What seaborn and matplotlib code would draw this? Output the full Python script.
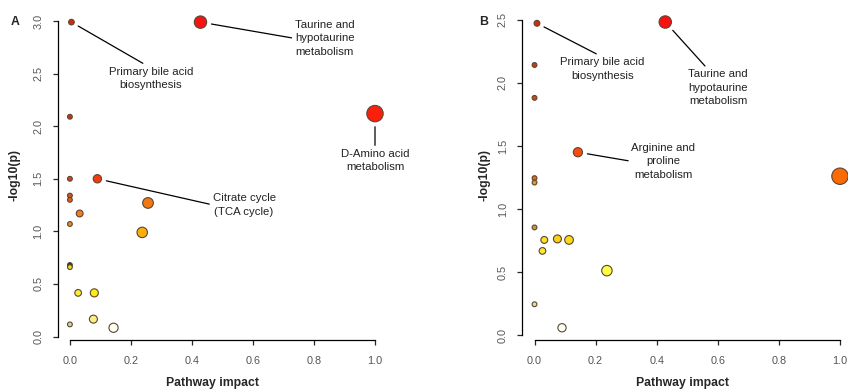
import numpy as np
import pandas as pd
import matplotlib
matplotlib.use("Agg")
import matplotlib.pyplot as plt
import seaborn as sns

sns.set_style("ticks")
plt.rcParams["font.family"] = ["Liberation Sans", "DejaVu Sans"]

# panel A : pathway impact vs -log10(p)
impact_a = [0.005, 0.428, 1.0, 0.0, 0.0, 0.09, 0.0, 0.0, 0.032, 0.256,
            0.0, 0.237, 0.0, 0.0, 0.027, 0.08, 0.0, 0.077, 0.143]
logp_a = [2.99, 2.99, 2.12, 2.09, 1.50, 1.50, 1.34, 1.30, 1.17, 1.27,
          1.07, 0.99, 0.68, 0.66, 0.415, 0.415, 0.115, 0.165, 0.083]
colors_a = ["#d42a0e", "#f41414", "#fa200c", "#c93512", "#d2461a", "#fa3a0c",
            "#d2561c", "#d8641c", "#fa7a12", "#f2780f", "#d8952a", "#fcae0a",
            "#2a2a12", "#e8e024", "#fbee36", "#fbec14", "#d8d89c", "#f8ee82",
            "#fdfdf0"]
labels_a = {
    0: ("Primary bile acid\nbiosynthesis", (0.266, 2.455), (0.47, 1)),
    1: ("Taurine and\nhypotaurine\nmetabolism", (0.835, 2.835), (0, 0.5)),
    2: ("D-Amino acid\nmetabolism", (1.0, 1.675), (0.5, 1)),
    5: ("Citrate cycle\n(TCA cycle)", (0.571, 1.252), (0, 0.5)),
}

# panel B
impact_b = [0.008, 0.428, 0.0, 0.0, 0.142, 1.0, 0.0, 0.0, 0.0, 0.032,
            0.075, 0.113, 0.026, 0.237, 0.0, 0.09]
logp_b = [2.47, 2.48, 2.14, 1.88, 1.45, 1.26, 1.245, 1.21, 0.855, 0.756,
          0.764, 0.756, 0.669, 0.513, 0.247, 0.061]
colors_b = ["#d42a10", "#fa1010", "#c93a16", "#c94a1a", "#fa4a0c", "#fc6a04",
            "#d86a22", "#d89e22", "#c99a34", "#fbe024", "#fbd012", "#fbdc14",
            "#fbe832", "#fcfc44", "#e0e094", "#fdfdf0"]
labels_b = {
    0: ("Primary bile acid\nbiosynthesis", (0.223, 2.109), (0.5, 1)),
    1: ("Taurine and\nhypotaurine\nmetabolism", (0.601, 1.959), (0.33, 1)),
    4: ("Arginine and\nproline\nmetabolism", (0.422, 1.378), (0, 0.5)),
}

W, H = 848, 390
fig = plt.figure(figsize=(W / 100, H / 100), dpi=100)


def radius_px(imp):
    return 2.4 + 5.8 * np.sqrt(np.asarray(imp))


def panel(rect, impact, logp, colors, labels, letter, ytop, ylabx, xlabx,
          letx):
    ax = fig.add_axes(rect)
    df = pd.DataFrame({"impact": impact, "logp": logp})
    df["pt"] = [str(i) for i in range(len(df))]
    df["area"] = (2 * radius_px(df["impact"]) * 0.72) ** 2
    amin, amax = df["area"].min(), df["area"].max()
    sns.scatterplot(data=df, x="impact", y="logp", hue="pt", palette=colors,
                    size="area", sizes=(amin, amax), size_norm=(amin, amax),
                    edgecolor="#5a4634", linewidth=0.8, legend=False, ax=ax,
                    zorder=3)

    for i, (txt, pos, rel) in labels.items():
        r = radius_px(impact[i])
        ax.annotate(txt, xy=(impact[i], logp[i]), xytext=pos,
                    ha="center", va="center", fontsize=8.2, color="#222222",
                    linespacing=1.45,
                    arrowprops=dict(arrowstyle="-", color="black", lw=0.9,
                                    relpos=rel, shrinkA=0,
                                    shrinkB=(r + 5) * 0.72))

    lo, hi = min(logp), max(logp)
    pad = 0.04 * (hi - lo)
    ax.set_xlim(-0.04, 1.04)
    ax.set_ylim(lo - pad, hi + pad)
    ax.set_xticks(np.arange(0, 1.01, 0.2))
    ax.set_xticklabels([f"{v:.1f}" for v in np.arange(0, 1.01, 0.2)])
    yt = np.arange(0, ytop + 0.01, 0.5)
    ax.set_yticks(yt)
    ax.set_yticklabels([f"{v:.1f}" for v in yt], rotation=90, va="center")

    sns.despine(ax=ax)
    ax.spines["left"].set_bounds(0, ytop)
    ax.spines["bottom"].set_bounds(0, 1)
    for s in ("left", "bottom"):
        ax.spines[s].set_linewidth(0.9)
        ax.spines[s].set_color("black")
    ax.tick_params(axis="x", length=3.8, width=0.9, pad=8, labelsize=7.8,
                   labelcolor="#555555")
    ax.tick_params(axis="y", length=3.8, width=0.9, pad=6.5, labelsize=7.8,
                   labelcolor="#555555")

    ax.set_xlabel("Pathway impact", fontsize=8.8, fontweight="bold")
    ax.set_ylabel("-log10(p)", fontsize=8.8, fontweight="bold")
    ax.xaxis.set_label_coords(xlabx, -0.112)
    ax.yaxis.set_label_coords(ylabx, 0.5)
    ax.text(letx, 0.963, letter, transform=ax.transAxes, fontsize=8.8,
            fontweight="bold", ha="center", va="center")
    ax.grid(False)
    return ax


# axes rectangles from the R plot regions (pixels -> figure fraction)
axA = panel([57.7 / W, 50 / H, 329.5 / W, 330.1 / H], impact_a, logp_a,
            colors_a, labels_a, "A", 3.0, -0.114, 0.47, -0.13)
axB = panel([522.3 / W, 50 / H, 329.9 / W, 330.2 / H], impact_b, logp_b,
            colors_b, labels_b, "B", 2.5, -0.096, 0.485, -0.116)

fig.savefig("out.png", dpi=100)
